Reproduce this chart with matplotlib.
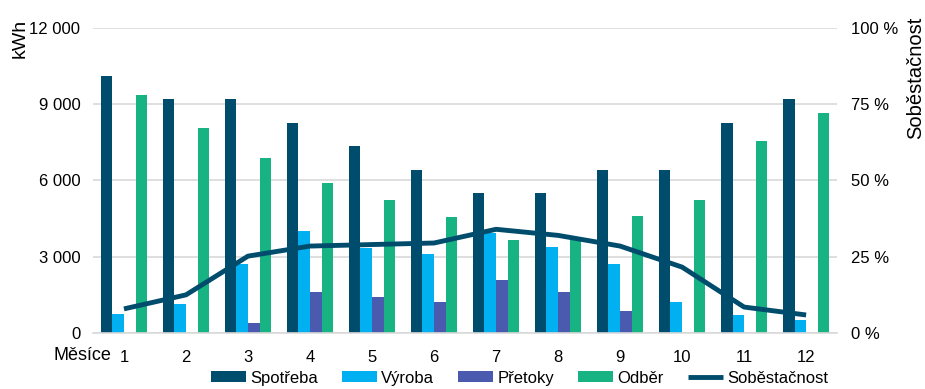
import matplotlib
matplotlib.use("Agg")
import matplotlib.pyplot as plt
import numpy as np
from matplotlib.ticker import FuncFormatter

plt.rcParams['font.family'] = ['Liberation Sans', 'DejaVu Sans']

months = ["1", "2", "3", "4", "5", "6", "7", "8", "9", "10", "11", "12"]
spotreba = [10100, 9200, 9200, 8250, 7350, 6400, 5500, 5500, 6400, 6400, 8250, 9200]
vyroba = [750, 1150, 2700, 4000, 3350, 3100, 3950, 3400, 2700, 1200, 700, 500]
pretoky = [0, 0, 400, 1600, 1400, 1200, 2100, 1600, 850, 0, 0, 0]
odber = [9350, 8050, 6900, 5900, 5250, 4550, 3650, 3650, 4600, 5250, 7550, 8650]
sobestacnost = [7.9, 12.5, 25.2, 28.5, 29.0, 29.5, 34.0, 32.0, 28.5, 21.6, 8.5, 5.9]

c_spot = "#004C6D"
c_vyr = "#00B0F0"
c_pret = "#4A5AAE"
c_odb = "#17B383"

fig = plt.figure(figsize=(9.25, 3.89), dpi=100)
ax = fig.add_axes([0.1005, 0.144, 0.8045, 0.784])

x = np.arange(len(months))
w = 0.187
series = [(spotreba, c_spot, "Spotřeba"), (vyroba, c_vyr, "Výroba"),
          (pretoky, c_pret, "Přetoky"), (odber, c_odb, "Odběr")]
handles = []
for i, (vals, col, lab) in enumerate(series):
    b = ax.bar(x + (i - 1.5) * w, vals, width=w, color=col, label=lab, zorder=2)
    handles.append(b)

ax.set_xlim(-0.5, 11.5)
ax.set_ylim(0, 12000)
ax.set_yticks([0, 3000, 6000, 9000, 12000])
ax.yaxis.set_major_formatter(FuncFormatter(lambda v, p: f"{int(v):,}".replace(",", " ")))
ax.set_xticks(x)
ax.set_xticklabels(months)
ax.grid(axis="y", color="#D9D9D9", linewidth=1.2, zorder=0)
ax.set_axisbelow(True)
for s in ["top", "right", "left"]:
    ax.spines[s].set_visible(False)
ax.spines["bottom"].set_color("#D9D9D9")
ax.spines["bottom"].set_linewidth(1.2)
ax.tick_params(axis="both", length=0, labelsize=12, colors="#000000")
ax.tick_params(axis="y", pad=9)
ax.tick_params(axis="x", pad=12)

ax2 = ax.twinx()
ax2.set_ylim(0, 100)
ax2.set_yticks([0, 25, 50, 75, 100])
ax2.yaxis.set_major_formatter(FuncFormatter(lambda v, p: f"{int(v)} %"))
for s in ["top", "right", "left", "bottom"]:
    ax2.spines[s].set_visible(False)
ax2.tick_params(axis="y", length=0, labelsize=12, pad=10)
line, = ax2.plot(x, sobestacnost, color=c_spot, linewidth=3.5, label="Soběstačnost",
                 solid_capstyle="butt", zorder=3)

fig.text(0.022, 0.90, "kWh", rotation=90, fontsize=14, ha="center", va="center")
fig.text(0.99, 0.80, "Soběstačnost", rotation=90, fontsize=14.5, ha="center", va="center")
fig.text(0.12, 0.085, "Měsíce", fontsize=13, ha="right", va="center")

fig.legend(handles + [line], [h.get_label() for h in handles] + ["Soběstačnost"],
           loc="center", bbox_to_anchor=(0.5616, 0.028), ncol=5, frameon=False,
           fontsize=12, handlelength=2.1, handleheight=0.6, columnspacing=1.45,
           handletextpad=0.25)

fig.savefig("out.png", dpi=100)
